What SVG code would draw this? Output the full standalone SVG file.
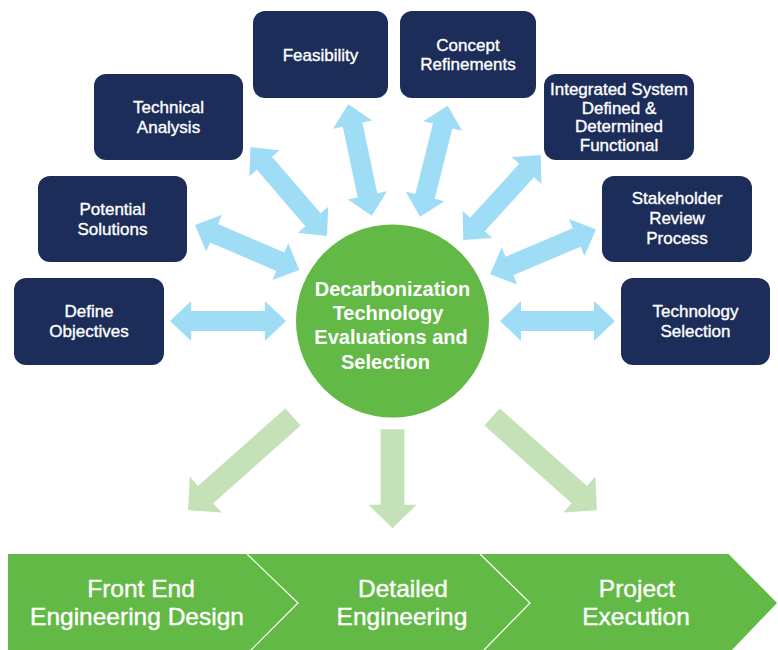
<svg xmlns="http://www.w3.org/2000/svg" width="778" height="650" viewBox="0 0 778 650">
<style>
.box{fill:#1b2d58;}
.bt{font-family:"Liberation Sans",Arial,sans-serif;font-size:17px;fill:#ffffff;text-anchor:middle;stroke:#ffffff;stroke-width:0.35px;}
.ct{font-family:"Liberation Sans",Arial,sans-serif;font-size:20px;font-weight:bold;fill:#ffffff;text-anchor:middle;}
.pt{font-family:"Liberation Sans",Arial,sans-serif;font-size:24.5px;fill:#ffffff;text-anchor:middle;stroke:#ffffff;stroke-width:0.4px;}
.blue{fill:#9fdcf5;}
.lg{fill:#c4e1b8;}
</style>
<defs>
<polygon id="dbl" points="0,0 21,-20 21,-10 94,-10 94,-20 115,0 94,20 94,10 21,10 21,20"/>
</defs>
<rect width="778" height="650" fill="#ffffff"/>

<g id="connectors">
  <use href="#dbl" class="blue" transform="translate(170,321) scale(1.009,1)"/>
  <use href="#dbl" class="blue" transform="translate(500,321)"/>
  <use href="#dbl" class="blue" transform="translate(195,225) rotate(23.3) scale(0.988,1)"/>
  <use href="#dbl" class="blue" transform="translate(250.5,147) rotate(49.3) scale(1.02,1)"/>
  <use href="#dbl" class="blue" transform="translate(348.3,104.3) rotate(78.1) scale(0.99,1)"/>
  <use href="#dbl" class="blue" transform="translate(447.7,105.7) rotate(104) scale(0.995,1)"/>
  <use href="#dbl" class="blue" transform="translate(540.7,155) rotate(132.3)"/>
  <use href="#dbl" class="blue" transform="translate(596,229.3) rotate(157)"/>
  <polygon class="lg" transform="translate(392.5,429.3) rotate(90)" points="0,-11.8 75.5,-11.8 75.5,-24 99,0 75.5,24 75.5,11.8 0,11.8"/>
  <polygon class="lg" transform="translate(293,417) rotate(138.4)" points="0,-11.5 116.8,-11.5 116.8,-24 140.3,0 116.8,24 116.8,11.5 0,11.5"/>
  <polygon class="lg" transform="translate(492,417) rotate(41.6)" points="0,-11.5 116.8,-11.5 116.8,-24 140.3,0 116.8,24 116.8,11.5 0,11.5"/>
</g>

<g id="center">
  <circle cx="392.5" cy="321" r="96.5" fill="#62b946"/>
  <text class="ct" x="392.5" y="295.5">Decarbonization</text>
  <text class="ct" x="388" y="320">Technology</text>
  <text class="ct" x="391" y="344">Evaluations and</text>
  <text class="ct" x="385.5" y="368.5">Selection</text>
</g>

<g id="define-objectives">
  <rect class="box" x="14" y="278" width="150" height="87" rx="12"/>
  <text class="bt" x="89" y="316.7">Define</text>
  <text class="bt" x="89" y="336.7">Objectives</text>
</g>
<g id="potential-solutions">
  <rect class="box" x="38" y="176" width="149" height="86" rx="12"/>
  <text class="bt" x="112.5" y="215">Potential</text>
  <text class="bt" x="112.5" y="235">Solutions</text>
</g>
<g id="technical-analysis">
  <rect class="box" x="94" y="74" width="149" height="86" rx="12"/>
  <text class="bt" x="168.5" y="113.3">Technical</text>
  <text class="bt" x="168.5" y="132.7">Analysis</text>
</g>
<g id="feasibility">
  <rect class="box" x="253" y="11" width="135" height="87" rx="12"/>
  <text class="bt" x="320.5" y="60.5">Feasibility</text>
</g>
<g id="concept-refinements">
  <rect class="box" x="400" y="11" width="136" height="87" rx="12"/>
  <text class="bt" x="468" y="50.7">Concept</text>
  <text class="bt" x="468" y="70">Refinements</text>
</g>
<g id="integrated-system">
  <rect class="box" x="544" y="74" width="150" height="86" rx="12"/>
  <text class="bt" x="619" y="95" textLength="138" lengthAdjust="spacingAndGlyphs">Integrated System</text>
  <text class="bt" x="619" y="113.5">Defined &amp;</text>
  <text class="bt" x="619" y="132">Determined</text>
  <text class="bt" x="619" y="150.5">Functional</text>
</g>
<g id="stakeholder-review">
  <rect class="box" x="602" y="176" width="150" height="86" rx="12"/>
  <text class="bt" x="677" y="204">Stakeholder</text>
  <text class="bt" x="677" y="224">Review</text>
  <text class="bt" x="677" y="244">Process</text>
</g>
<g id="technology-selection">
  <rect class="box" x="621" y="278" width="149" height="87" rx="12"/>
  <text class="bt" x="695.5" y="316.7">Technology</text>
  <text class="bt" x="695.5" y="336.7">Selection</text>
</g>

<g id="phases">
  <polygon points="8,554 728.5,554 777,603 730,652 8,652" fill="#62b946"/>
  <polyline points="247,554 298,603 249,652" fill="none" stroke="#ffffff" stroke-width="1.2"/>
  <polyline points="480,554 530,603 482,652" fill="none" stroke="#ffffff" stroke-width="1.2"/>
  <text class="pt" x="141" y="597">Front End</text>
  <text class="pt" x="137" y="624.5">Engineering Design</text>
  <text class="pt" x="403" y="597">Detailed</text>
  <text class="pt" x="402" y="624.5">Engineering</text>
  <text class="pt" x="637" y="597">Project</text>
  <text class="pt" x="636" y="624.5">Execution</text>
</g>
</svg>
